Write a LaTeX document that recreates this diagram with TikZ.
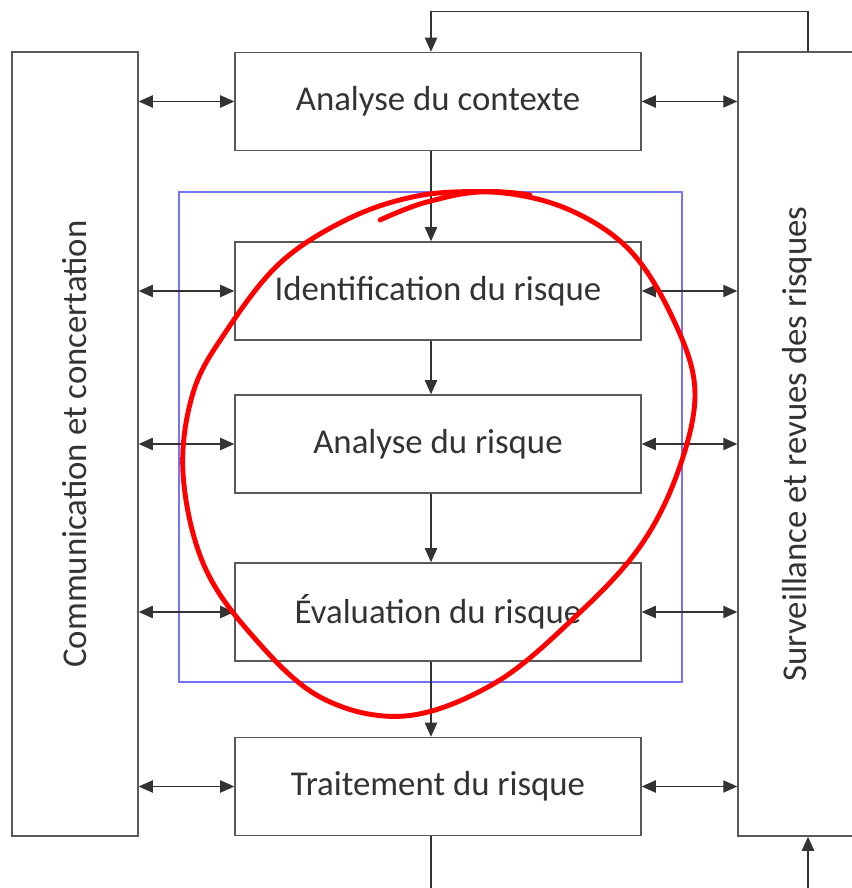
\documentclass[tikz,border=0pt]{standalone}
\usepackage{fontspec}
\setmainfont{Carlito}
\usetikzlibrary{arrows.meta}

\begin{document}
\begin{tikzpicture}[
	box/.style={draw=black!65, line width=.8pt, inner sep=0pt, text=black!80,
		minimum width=8.12cm, minimum height=1.96cm, font=\fontsize{19.8}{24}\selectfont},
	side/.style={box, rotate=90, minimum width=15.68cm},
	tip/.tip={Triangle[length=8pt,width=7pt]},
	link/.style={draw=black!80, line width=.7pt, -tip},
	both/.style={link, tip-tip}
	]
\useasboundingbox (0,0) rectangle (17.04,17.76);
\clip (0,0) rectangle (17.04,17.76);

\path (8.76,15.73) node[box] (ctx) {Analyse du contexte}
		(8.76,11.94) node[box] (ident) {Identification du risque}
		(8.76,8.88) node[box] (ana) {Analyse du risque}
		(8.76,5.52) node[box] (eval) {Évaluation du risque}
		(8.76,2.03) node[box] (trait) {Traitement du risque}
		(1.5,8.88) node[side, minimum height=2.52cm] (comm) {Communication et concertation}
		(15.94,8.88) node[side, minimum height=2.36cm] (surv) {Surveillance et revues des risques}
		;

% cadre bleu
\draw[blue!55, line width=.6pt] (3.58,4.12) rectangle (13.64,13.92);

% enchainement vertical
\draw[link] ([xshift=-.14cm]ctx.south) -- ([xshift=-.14cm]ident.north);
\draw[link] ([xshift=-.14cm]ident.south) -- ([xshift=-.14cm]ana.north);
\draw[link] ([xshift=-.14cm]ana.south) -- ([xshift=-.14cm]eval.north);
\draw[link] ([xshift=-.14cm]eval.south) -- ([xshift=-.14cm]trait.north);

% retours
\draw[link] ([xshift=.22cm]surv.east) -- ++(0,.8) -| ([xshift=-.14cm]ctx.north);
\draw[link] ([xshift=-.14cm]trait.south) -- ++(0,-1.2) -| ([xshift=.22cm]surv.west);

% liaisons laterales
\draw[both] (comm.south |- ctx.west) -- (ctx.west);
\draw[both] (comm.south |- ident.west) -- (ident.west);
\draw[both] (comm.south |- ana.west) -- (ana.west);
\draw[both] (comm.south |- eval.west) -- (eval.west);
\draw[both] (comm.south |- trait.west) -- (trait.west);
\draw[both] (ctx.east) -- (surv.north |- ctx.east);
\draw[both] (ident.east) -- (surv.north |- ident.east);
\draw[both] (ana.east) -- (surv.north |- ana.east);
\draw[both] (eval.east) -- (surv.north |- eval.east);
\draw[both] (trait.east) -- (surv.north |- trait.east);

% cercle rouge
\draw[red, line width=2.8pt, line cap=round] plot[smooth, tension=.6] coordinates {
	(7.6,13.36) (8.54,13.72) (9.8,13.92) (11.3,13.6) (12.6,12.75) (13.5,11.3)
	(13.9,9.9) (13.55,8.3) (12.78,6.8) (11.5,5.42) (9.9,4.1) (8.1,3.44)
	(6.4,3.82) (5.0,5.1) (4.06,6.5) (3.66,8.3) (3.86,9.9) (4.5,11.1)
	(5.6,12.5) (7.0,13.4) (8.4,13.85) (9.8,13.93) (10.6,13.86)};
\end{tikzpicture}
\end{document}
